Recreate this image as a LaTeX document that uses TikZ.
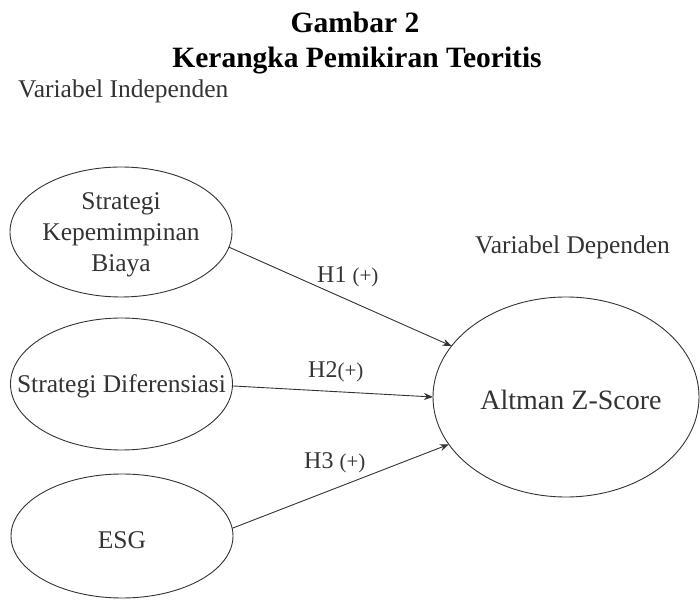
\documentclass[tikz,border=0pt]{standalone}
\usepackage{fontspec}
\setmainfont{Liberation Serif}
\usetikzlibrary{shapes.geometric,arrows.meta}
\definecolor{ink}{HTML}{333333}
\tikzset{
  oval/.style={ellipse, draw=ink, line width=0.9pt, inner sep=0pt, outer sep=0pt},
  txt/.style={text=ink, inner sep=0pt, font=\fontsize{25.5pt}{31pt}\selectfont, align=center},
  hlab/.style={text=ink, inner sep=0pt, anchor=base west, font=\fontsize{24pt}{28pt}\selectfont},
  ttl/.style={text=black, inner sep=0pt, anchor=base, font=\fontsize{29.5pt}{34pt}\selectfont\bfseries},
  conn/.style={draw=ink, line width=0.9pt, -{Stealth[length=9pt,width=7pt]}}
}
\newcommand{\pls}{{\fontsize{21pt}{24pt}\selectfont(+)}}
\begin{document}
\begin{tikzpicture}[x=1pt,y=1pt]
\useasboundingbox (0,0) rectangle (700,599);
% title
\node[ttl] (g2) at (355,566) {Gambar 2};
\node[ttl] (kpt) at (357,531) {Kerangka Pemikiran Teoritis};
% headings
\node[txt, anchor=base west] (vi) at (18,501) {Variabel Independen};
\node[txt, anchor=base west] (vd) at (475,345) {Variabel Dependen};
% ellipses
\node[oval, minimum width=222pt, minimum height=130pt] (e1) at (121,367) {};
\node[oval, minimum width=222pt, minimum height=132pt] (e2) at (121.5,215) {};
\node[oval, minimum width=222pt, minimum height=124pt] (e3) at (122,63) {};
\node[oval, minimum width=266pt, minimum height=200pt] (z) at (566,202) {};
% texts
\node[txt] (t1) at (121,364) {Strategi\\Kepemimpinan\\Biaya};
\node[txt] (t2) at (121.5,213) {Strategi Diferensiasi};
\node[txt] (t3) at (122,59) {ESG};
\node[txt, font=\fontsize{28pt}{32pt}\selectfont] (tz) at (571,199) {Altman Z-Score};
% connectors
\draw[conn] (e1.-8) -- (z.156);
\draw[conn] (e2.-1) -- (z.180);
\draw[conn] (e3.4) -- (z.202);
% labels
\node[hlab] (h1) at (317,316) {H1 \pls};
\node[hlab] (h2) at (308,221) {H2\pls};
\node[hlab] (h3) at (304,130) {H3 \pls};
\end{tikzpicture}
\end{document}
